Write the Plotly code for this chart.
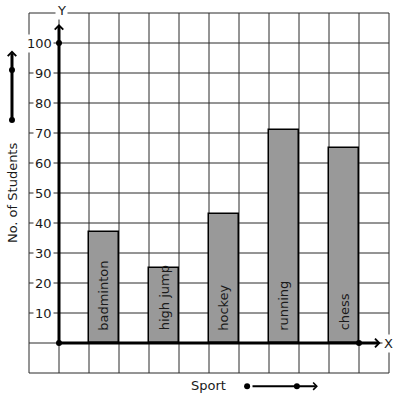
import plotly.graph_objects as go

# ---- data ----
sports = ["badminton", "high jump", "hockey", "running", "chess"]
students = [37, 25, 43, 71, 65]
y_ticks = [10, 20, 30, 40, 50, 60, 70, 80, 90, 100]
x_title = "Sport"
y_title = "No. of Students"

FONT = "DejaVu Sans"
GRID = "#2b2b2b"
TXT = "#1a1a1a"

# bars placed in every other grid column
bar_x = [2 * i + 1.5 for i in range(len(sports))]

fig = go.Figure()

shapes = []
# grid (x from -1 to 11, y from -10 to 110)
for gx in range(-1, 12):
    shapes.append(dict(type="line", x0=gx, x1=gx, y0=-10, y1=110, xref="x", yref="y",
                       line=dict(color=GRID, width=1), layer="below"))
for gy in range(-10, 111, 10):
    shapes.append(dict(type="line", x0=-1, x1=11, y0=gy, y1=gy, xref="x", yref="y",
                       line=dict(color=GRID, width=1), layer="below"))

fig.add_trace(go.Bar(
    x=bar_x, y=students, width=1,
    marker=dict(color="#999999", line=dict(color="#000000", width=1.5)),
    hoverinfo="skip", showlegend=False,
))

annotations = []
# bar labels (rotated, inside bars from bottom)
for bx, name in zip(bar_x, sports):
    annotations.append(dict(x=bx, y=3.4, text=name, textangle=-90, showarrow=False,
                            xanchor="center", yanchor="bottom",
                            font=dict(family=FONT, size=13, color=TXT)))

# y tick labels with white background
for t in y_ticks:
    annotations.append(dict(x=-0.17, y=t, text=str(t), showarrow=False,
                            xanchor="right", yanchor="middle", bgcolor="white",
                            borderpad=1,
                            font=dict(family=FONT, size=13, color=TXT)))

# axes with arrows
annotations.append(dict(x=10.72, y=0, ax=0, ay=0, axref="x", ayref="y", xref="x", yref="y",
                        text="", showarrow=True, arrowhead=4, arrowsize=0.55, arrowwidth=3,
                        arrowcolor="black", standoff=0, startstandoff=0))
annotations.append(dict(x=0, y=106.3, ax=0, ay=0, axref="x", ayref="y", xref="x", yref="y",
                        text="", showarrow=True, arrowhead=4, arrowsize=0.55, arrowwidth=3,
                        arrowcolor="black", standoff=0, startstandoff=0))
# axis letters
annotations.append(dict(x=0.07, y=111, text="Y", showarrow=False, bgcolor="white",
                        font=dict(family=FONT, size=13, color=TXT)))
annotations.append(dict(x=10.97, y=0, text="X", showarrow=False, bgcolor="white",
                        font=dict(family=FONT, size=13, color=TXT)))

# left direction arrow
annotations.append(dict(x=-1.567, y=97.5, ax=-1.567, ay=74.3, axref="x", ayref="y",
                        xref="x", yref="y", text="", showarrow=True, arrowhead=4,
                        arrowsize=0.55, arrowwidth=3, arrowcolor="black",
                        standoff=0, startstandoff=0))
annotations.append(dict(x=-1.567, y=50.3, text=y_title, textangle=-90, showarrow=False,
                        font=dict(family=FONT, size=13, color=TXT)))

# bottom direction arrow
annotations.append(dict(x=8.63, y=-14.4, ax=6.4, ay=-14.4, axref="x", ayref="y",
                        xref="x", yref="y", text="", showarrow=True, arrowhead=4,
                        arrowsize=0.7, arrowwidth=2, arrowcolor="black",
                        standoff=0, startstandoff=0))
annotations.append(dict(x=4.97, y=-14.0, text=x_title, showarrow=False,
                        font=dict(family=FONT, size=13, color=TXT)))

# dots
fig.add_trace(go.Scatter(
    x=[0, 0, 10, -1.567, -1.567, 6.27, 7.93],
    y=[0, 100, 0, 74.3, 91, -14.4, -14.4],
    mode="markers", marker=dict(color="black", size=6),
    cliponaxis=False, hoverinfo="skip", showlegend=False,
))

fig.update_layout(
    width=397, height=399,
    margin=dict(l=0, r=0, t=0, b=0),
    paper_bgcolor="white", plot_bgcolor="white",
    xaxis=dict(range=[-59 / 30, 338 / 30], visible=False, fixedrange=True),
    yaxis=dict(range=[-56 / 3, 343 / 3], visible=False, fixedrange=True),
    shapes=shapes, annotations=annotations,
    bargap=0,
)

fig.write_html("out.html", config={"displayModeBar": False},
               post_script="document.body.style.margin='0';document.body.style.overflow='hidden';")
